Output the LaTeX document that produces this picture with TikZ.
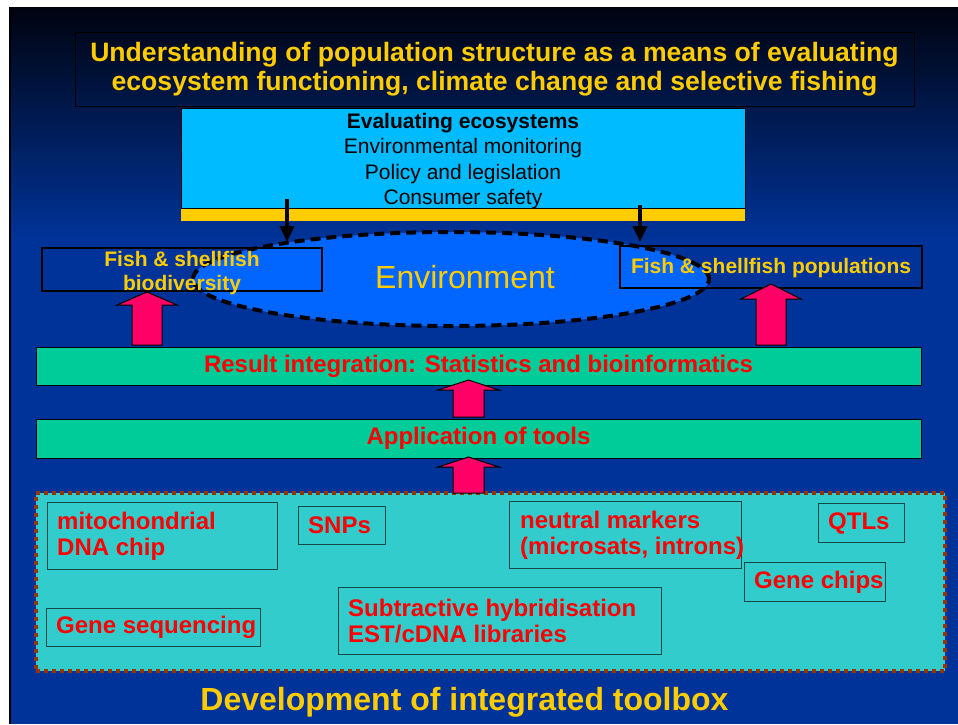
\documentclass[tikz,border=0pt]{standalone}
\usepackage{fontspec}
\setmainfont{Liberation Sans}
\usetikzlibrary{arrows.meta,shapes.geometric}
\tikzset {>={Triangle[length=16pt,width=14pt]}}

\definecolor{slideblue}{HTML}{003399}
\definecolor{slidetop}{HTML}{00030F}
\definecolor{titleyellow}{HTML}{FFCC00}
\definecolor{evalcyan}{HTML}{00BBFF}
\definecolor{envblue}{HTML}{0066FF}
\definecolor{barteal}{HTML}{00CC99}
\definecolor{toolcyan}{HTML}{33CCCC}
\definecolor{dotbrown}{HTML}{993300}
\definecolor{arrowpink}{HTML}{FF0066}
\definecolor{boxline}{HTML}{124848}

\tikzset{
  titlebox/.style={draw=black, line width=1pt, align=center, text=titleyellow,
    font=\fontsize{26.6}{29}\selectfont\bfseries},
  fishbox/.style={draw=black, line width=1.5pt, inner sep=0pt},
  fishtext/.style={align=center, inner sep=0pt, text=titleyellow,
    font=\fontsize{21}{24}\selectfont\bfseries},
  resultbar/.style={draw=black, line width=1pt, fill=barteal, minimum width=885pt,
    inner sep=0pt, text=red, font=\fontsize{24}{28}\selectfont\bfseries},
  toolitem/.style={draw=boxline, line width=1.2pt, anchor=north west, inner sep=0pt},
  tooltext/.style={anchor=west, align=left, inner sep=0pt, text=red,
    font=\fontsize{24}{26}\selectfont\bfseries},
  blockarrow/.style={draw=black, line width=1pt, fill=arrowpink, line join=miter},
  evalarrow/.style={->, line width=3.5pt}
}

\begin{document}
\begin{tikzpicture}[x=1pt,y=-1pt]

% Page and slide background
\useasboundingbox (0,0) rectangle (958,724);
\fill[white] (0,0) rectangle (958,724);
\fill[slideblue] (9,7) rectangle (958,724);
\shade[top color=slidetop, bottom color=slideblue] (9,7) rectangle (958,240);
\draw[line width=2pt] (10,7) -- (10,724);

% Title
\node[titlebox, minimum width=839pt, minimum height=74pt] (title) at (494.5,69)
  {Understanding of population structure as a means of evaluating\\
   ecosystem functioning, climate change and selective fishing};

% Evaluating ecosystems, with yellow strip below
\node[draw=black, line width=1pt, fill=evalcyan, minimum width=564pt, minimum height=100pt,
  inner sep=0pt] (eval) at (463,158) {};
\node[align=center, inner sep=0pt, font=\fontsize{21}{25.5}\selectfont] (eval-text) at (463,161)
  {\textbf{Evaluating ecosystems}\\Environmental monitoring\\Policy and legislation\\Consumer safety};
\fill[titleyellow] (eval.south west) rectangle ++(564,12);

% Environment
\node[ellipse, draw=black, fill=envblue, line width=4pt, dash pattern=on 10pt off 6pt,
  minimum width=516pt, minimum height=94pt, inner sep=0pt] (env) at (451,279) {};
\node[text=titleyellow, font=\fontsize{32}{36}\selectfont] (envtext) at (465,277) {Environment};

% Arrows down into the environment
\coordinate (evalL) at (287,199);
\coordinate (envL) at (287,242);
\coordinate (evalR) at (640,205);
\coordinate (envR) at (640,242);
\draw[evalarrow] (evalL) -- (envL);
\draw[evalarrow] (evalR) -- (envR);

% Fish & shellfish boxes
\node[fishbox, minimum width=280pt, minimum height=43pt] (biodiv) at (182,269.5) {};
\node[fishtext] (biodiv-text) at (182,273) {Fish \& shellfish\\biodiversity};
\node[fishbox, minimum width=302pt, minimum height=42pt] (popul) at (771,267) {};
\node[fishtext] (popul-text) at (771,268) {Fish \& shellfish populations};

% Result and application bars
\node[resultbar, minimum height=38pt] (result) at (478.5,366)
  {Result integration: Statistics and bioinformatics};
\node[resultbar, minimum height=39pt] (apply) at (478.5,438.5) {Application of tools};

% Toolbox
\node[draw=dotbrown, fill=toolcyan, line width=4pt, dash pattern=on 4pt off 4pt,
  minimum width=909pt, minimum height=178pt, inner sep=0pt] (tools) at (490.5,582) {};

\node[toolitem, minimum width=230pt, minimum height=67pt] (mito) at (47,502) {};
\node[tooltext] (mito-text) at ([xshift=10pt]mito.west) {mitochondrial\\DNA chip};
\node[toolitem, minimum width=87pt, minimum height=38pt] (snps) at (298,506) {};
\node[tooltext] (snps-text) at ([xshift=10pt]snps.west) {SNPs};
\node[toolitem, minimum width=232pt, minimum height=67pt] (neutral) at (509,501) {};
\node[tooltext] (neutral-text) at ([xshift=11pt]neutral.west) {neutral markers\\(microsats, introns)};
\node[toolitem, minimum width=86pt, minimum height=39pt] (qtls) at (818,503) {};
\node[tooltext] (qtls-text) at ([xshift=10pt]qtls.west) {QTLs};
\node[toolitem, minimum width=141pt, minimum height=39pt] (chips) at (744,562) {};
\node[tooltext] (chips-text) at ([xshift=10pt]chips.west) {Gene chips};
\node[toolitem, minimum width=214pt, minimum height=38pt] (geneseq) at (46,608) {};
\node[tooltext] (geneseq-text) at ([xshift=10pt]geneseq.west) {Gene sequencing};
\node[toolitem, minimum width=323pt, minimum height=67pt] (subtr) at (338,587) {};
\node[tooltext] (subtr-text) at ([xshift=10pt]subtr.west) {Subtractive hybridisation\\EST/cDNA libraries};

% Block arrows upwards
\coordinate (upL) at (147,345);
\coordinate (upR) at (771,345);
\coordinate (upM) at (468.5,417);
\coordinate (upB) at (468.5,493);
\draw[blockarrow] (upL) ++(-15,0) -- ++(0,-40) -- ++(-15,0) -- ++(30,-13) -- ++(30,13) -- ++(-15,0) -- ++(0,40) -- cycle;
\draw[blockarrow] (upR) ++(-15,0) -- ++(0,-46) -- ++(-15,0) -- ++(30,-15) -- ++(30,15) -- ++(-15,0) -- ++(0,46) -- cycle;
\draw[blockarrow] (upM) ++(-15.5,0) -- ++(0,-27) -- ++(-15,0) -- ++(30.5,-10) -- ++(30.5,10) -- ++(-15,0) -- ++(0,27) -- cycle;
\draw[blockarrow] (upB) ++(-15.5,0) -- ++(0,-26) -- ++(-15,0) -- ++(30.5,-10) -- ++(30.5,10) -- ++(-15,0) -- ++(0,26) -- cycle;

% Bottom caption
\node[anchor=base, text=titleyellow, font=\fontsize{32}{36}\selectfont\bfseries] (develop) at (464.5,710)
  {Development of integrated toolbox};

\end{tikzpicture}
\end{document}
